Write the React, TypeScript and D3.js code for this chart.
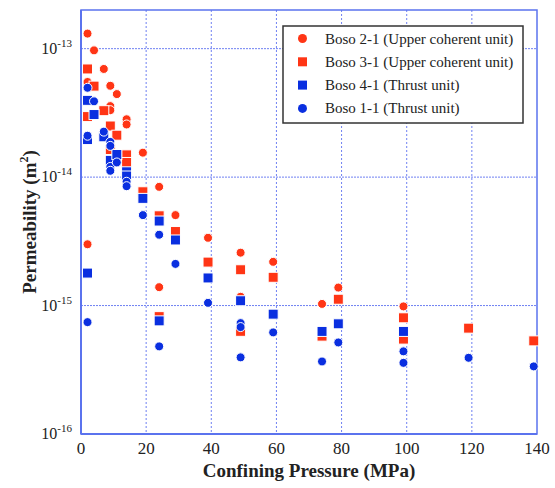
import React from "react";
import * as d3 from "d3";

// Confining pressure (MPa) and permeability (m^2)
const boso21P = [2, 2, 2, 4, 7, 9, 9, 9, 11, 14, 14, 19, 24, 24, 29, 39, 49, 49, 59, 74, 79, 99];
const boso21K = [1.31e-13, 5.5e-14, 3.0e-15, 9.7e-14, 6.95e-14, 5.14e-14, 3.57e-14, 3.32e-14, 4.43e-14, 2.82e-14, 2.57e-14, 1.55e-14, 8.4e-15, 1.39e-15, 5.06e-15, 3.37e-15, 2.58e-15, 1.17e-15, 2.19e-15, 1.03e-15, 1.38e-15, 9.85e-16];

const boso31P = [2, 2, 4, 7, 9, 9, 11, 14, 14, 19, 24, 24, 29, 39, 49, 49, 59, 74, 79, 99, 99, 119, 139];
const boso31K = [6.95e-14, 2.96e-14, 5.11e-14, 3.29e-14, 2.5e-14, 1.64e-14, 2.12e-14, 1.49e-14, 1.3e-14, 7.69e-15, 5.0e-15, 8.2e-16, 3.77e-15, 2.18e-15, 1.9e-15, 6.3e-16, 1.66e-15, 5.78e-16, 1.12e-15, 8.03e-16, 5.48e-16, 6.67e-16, 5.31e-16];

const boso41P = [2, 2, 2, 4, 7, 9, 11, 14, 14, 19, 24, 24, 29, 39, 49, 59, 74, 79, 99];
const boso41K = [3.96e-14, 1.96e-14, 1.79e-15, 3.07e-14, 2.06e-14, 1.35e-14, 1.5e-14, 1.1e-14, 1.02e-14, 6.83e-15, 4.55e-15, 7.6e-16, 3.24e-15, 1.64e-15, 1.09e-15, 8.57e-16, 6.29e-16, 7.21e-16, 6.29e-16];

const boso11P = [2, 2, 2, 4, 7, 9, 9, 9, 9, 11, 14, 14, 19, 24, 24, 29, 39, 49, 49, 49, 59, 74, 79, 99, 99, 119, 139];
const boso11K = [4.96e-14, 2.1e-14, 7.43e-16, 3.89e-14, 2.26e-14, 1.88e-14, 1.75e-14, 1.2e-14, 1.12e-14, 1.3e-14, 9.2e-15, 8.5e-15, 5.06e-15, 3.56e-15, 4.81e-16, 2.11e-15, 1.05e-15, 7.3e-16, 6.8e-16, 3.95e-16, 6.18e-16, 3.67e-16, 5.16e-16, 4.4e-16, 3.58e-16, 3.92e-16, 3.36e-16];

const xTicks = [0, 20, 40, 60, 80, 100, 120, 140];
const yTicks = [1e-16, 1e-15, 1e-14, 1e-13];

const RED = "#ff3515";
const BLUE = "#0a2fe0";
const FRAME = "#5b73ee";
const GRID = "#6f80f2";
const FONT = "'Liberation Serif', 'Times New Roman', serif";

const series = [
  { name: "Boso 2-1 (Upper coherent unit)", p: boso21P, k: boso21K, color: RED, shape: "circle" },
  { name: "Boso 3-1 (Upper coherent unit)", p: boso31P, k: boso31K, color: RED, shape: "square" },
  { name: "Boso 4-1 (Thrust unit)", p: boso41P, k: boso41K, color: BLUE, shape: "square" },
  { name: "Boso 1-1 (Thrust unit)", p: boso11P, k: boso11K, color: BLUE, shape: "circle" },
];

const Marker = ({ x, y, shape, color, legend = false }) =>
  shape === "circle" ? (
    <circle cx={x} cy={y} r={4.5} fill={color} stroke={legend ? "none" : "#fff"} strokeWidth={1} />
  ) : (
    <rect
      x={x - (legend ? 4.5 : 5)}
      y={y - (legend ? 4.5 : 5)}
      width={legend ? 9 : 10}
      height={legend ? 9 : 10}
      fill={color}
      stroke={legend ? "none" : "#fff"}
      strokeWidth={1}
    />
  );

const App = () => {
  const left = 81, top = 10, right = 537, bottom = 434;
  const x = d3.scaleLinear().domain([0, 140]).range([left, right]);
  const y = d3.scaleLog().domain([1e-16, 2e-13]).range([bottom, top]);
  const sup = (v) => String(Math.round(Math.log10(v)));

  return (
    <svg width={555} height={488} fontFamily={FONT} style={{ position: "absolute", left: 0, top: 0 }}>
      <rect width={555} height={488} fill="#fff" />
      {/* grid */}
      {xTicks.slice(1, -1).map((t) => (
        <line key={"gx" + t} x1={x(t)} x2={x(t)} y1={top} y2={bottom} stroke={GRID} strokeWidth={1} strokeDasharray="2,2" />
      ))}
      {yTicks.slice(1).map((t) => (
        <line key={"gy" + t} x1={left} x2={right} y1={y(t)} y2={y(t)} stroke={GRID} strokeWidth={1} strokeDasharray="2,1" />
      ))}
      {/* frame */}
      <rect x={left} y={top} width={right - left} height={bottom - top} fill="none" stroke={FRAME} strokeWidth={1.5} />
      <line x1={left} x2={left} y1={top} y2={bottom} stroke={FRAME} strokeWidth={2} />
      <line x1={left} x2={right} y1={bottom} y2={bottom} stroke={FRAME} strokeWidth={2} />

      {/* points */}
      {series.map((s) =>
        s.p.map((p, i) => (
          <Marker key={s.name + i} x={x(p)} y={y(s.k[i])} shape={s.shape} color={s.color} />
        ))
      )}

      {/* x tick labels */}
      {xTicks.map((t) => (
        <text key={"tx" + t} x={x(t)} y={454} textAnchor="middle" fontSize={17} fill="#222">
          {t}
        </text>
      ))}
      {/* y tick labels */}
      {yTicks.map((t) => (
        <text key={"ty" + t} x={72} y={y(t) + 5} textAnchor="end" fontSize={16} fill="#222">
          10
          <tspan fontSize={11} dy={-7}>{sup(t)}</tspan>
        </text>
      ))}

      <text x={309} y={477} textAnchor="middle" fontSize={19} fontWeight="bold" fill="#222">
        Confining Pressure (MPa)
      </text>
      <text transform={`translate(36,${(top + bottom) / 2}) rotate(-90)`} textAnchor="middle" fontSize={19} fontWeight="bold" fill="#222">
        Permeability (m<tspan fontSize={12} dy={-8}>2</tspan><tspan dy={8}>)</tspan>
      </text>

      {/* legend */}
      <g>
        <rect x={283} y={26} width={240} height={97} fill="#fff" stroke="#333" strokeWidth={1.5} />
        {series.map((s, i) => (
          <g key={"lg" + i}>
            <Marker x={302.5} y={38.5 + i * 23.3} shape={s.shape} color={s.color} legend />
            <text x={325} y={38.5 + i * 23.3 + 5} fontSize={15} fill="#222">
              {s.name}
            </text>
          </g>
        ))}
      </g>
    </svg>
  );
};

export default App;
